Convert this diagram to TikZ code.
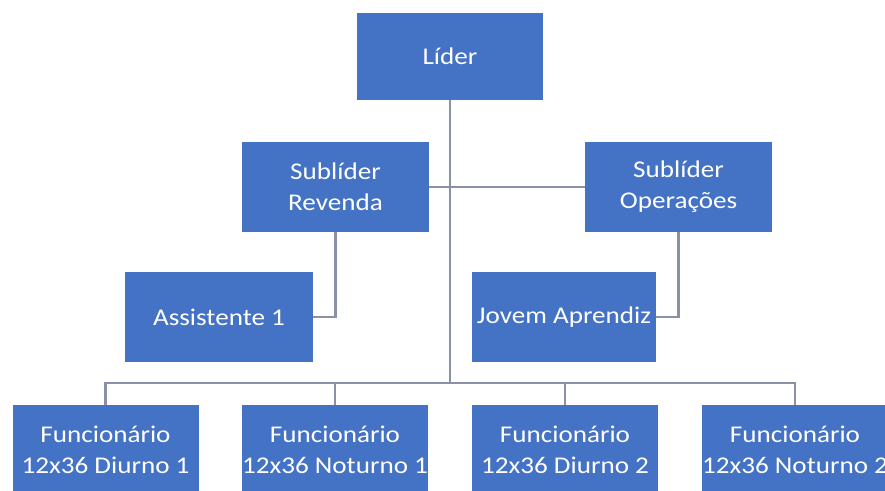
\documentclass[tikz,border=0pt]{standalone}
\usepackage{fontspec}
\setmainfont{Carlito}[FakeStretch=1.13]
\definecolor{boxblue}{HTML}{4472C4}
\definecolor{linkgray}{HTML}{8A90A6}
\begin{document}
\begin{tikzpicture}[x=1pt,y=-1pt,
  orgbox/.style={rectangle, fill=boxblue, draw=none, text=white,
    minimum width=186pt, minimum height=90pt, inner sep=0pt,
    align=center, font=\fontsize{24}{31}\selectfont},
  link/.style={draw=linkgray, line width=2.2pt}]
\clip (0,0) rectangle (885,490);
\fill[white] (0,0) rectangle (885,490);

% top level
\node[orgbox, minimum height=87pt] (lider) at (450,56.5) {Líder};

% second level
\node[orgbox, minimum width=187pt] (revenda) at (335.5,187) {Sublíder\\Revenda};
\node[orgbox, minimum width=187pt] (operacoes) at (678.5,187) {Sublíder\\Operações};

% assistants
\node[orgbox, minimum width=188pt] (assist) at (219,317) {Assistente 1};
\node[orgbox, minimum width=184pt] (jovem) at (564,317) {Jovem Aprendiz};

% staff row
\node[orgbox] (f1) at (105.5,450) {Funcionário\\12x36 Diurno 1};
\node[orgbox] (f2) at (335,450) {Funcionário\\12x36 Noturno 1};
\node[orgbox] (f3) at (565,450) {Funcionário\\12x36 Diurno 2};
\node[orgbox] (f4) at (795,450) {Funcionário\\12x36 Noturno 2};

% connectors
\coordinate (bus) at (450,383);
\draw[link] (lider.south) -- (bus);
\draw[link] (revenda.east) -- (operacoes.west);
\draw[link] (revenda.south) |- (assist.east);
\draw[link] (operacoes.south) |- (jovem.east);
\draw[link] (f1.north) -- (f1.north |- bus) -- (f4.north |- bus) -- (f4.north);
\draw[link] (f2.north) -- (f2.north |- bus);
\draw[link] (f3.north) -- (f3.north |- bus);
\end{tikzpicture}
\end{document}
